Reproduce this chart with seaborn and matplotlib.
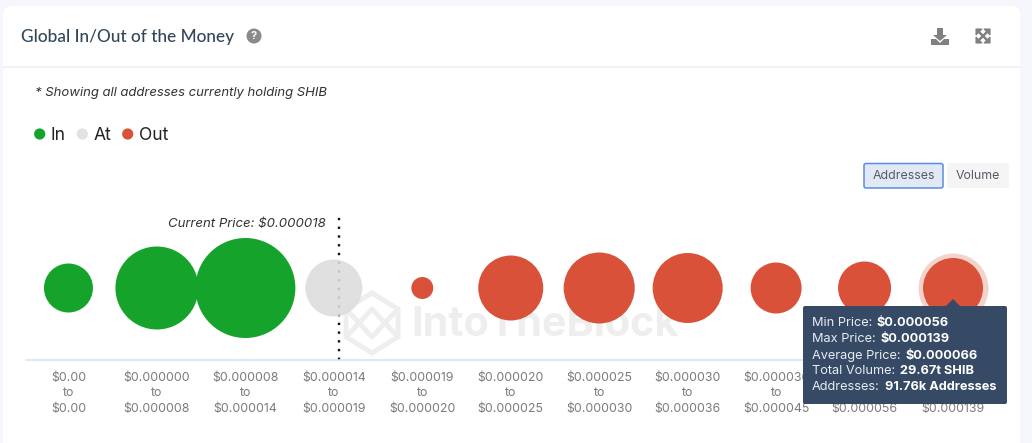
import matplotlib
matplotlib.use("Agg")
import matplotlib.pyplot as plt
from matplotlib.colors import to_rgba
from matplotlib.patches import FancyBboxPatch, Circle, Polygon
import pandas as pd
import seaborn as sns

W, H = 1032, 443

low_labels = ["$0.00", "$0.000000", "$0.000008", "$0.000014", "$0.000019", "$0.000020",
              "$0.000025", "$0.000030", "$0.000036", "$0.000045", "$0.000056"]
high_labels = ["$0.00", "$0.000008", "$0.000014", "$0.000019", "$0.000020", "$0.000025",
               "$0.000030", "$0.000036", "$0.000045", "$0.000056", "$0.000139"]
addresses_k = [61.2, 175.6, 254.9, 82.8, 12.3, 107.7, 128.5, 124.9, 66.3, 71.6, 91.76]
status = ["In", "In", "In", "At", "Out", "Out", "Out", "Out", "Out", "Out", "Out"]
palette = {"In": "#16a32c", "At": "#e2e2e2", "Out": "#d95138"}
current_price_pos = 3.06
tooltip_rows = [("Min Price: ", "$0.000056"), ("Max Price: ", "$0.000139"),
                ("Average Price: ", "$0.000066"), ("Total Volume: ", "29.67t SHIB"),
                ("Addresses: ", "91.76k Addresses")]

sns.set_theme(style="white")
plt.rcParams["font.family"] = ["Inter", "DejaVu Sans"]

fig = plt.figure(figsize=(W / 100, H / 100), dpi=100, facecolor="#f5f7fc")

# page furniture layer, in pixel coordinates
bg = fig.add_axes([0, 0, 1, 1], zorder=0)
bg.set_xlim(0, W); bg.set_ylim(H, 0); bg.axis("off")
bg.add_patch(FancyBboxPatch((3, 6), 1017, 460, boxstyle="round,pad=0,rounding_size=9",
                            fc="white", ec="none"))
bg.plot([3, 1020], [67, 67], color="#f0f1f4", lw=1.3)
bg.text(21, 37, "Global In/Out of the Money", fontsize=12.4, color="#33475b",
        family="Lato", va="center", fontweight="medium")
bg.add_patch(Circle((254, 36), 7.5, fc="#8a8a8a", ec="none"))
bg.text(254, 36.3, "?", color="white", fontsize=8, fontweight="bold", ha="center", va="center")
bg.text(35, 93, "* Showing all addresses currently holding SHIB", fontsize=9.45,
        style="italic", color="#333333", va="center")
for px, tx, lab, key in [(39.7, 51, "In", "In"), (82.3, 94, "At", "At"), (127.7, 139, "Out", "Out")]:
    bg.add_patch(Circle((px, 134), 5.6, fc=palette[key], ec="none"))
    bg.text(tx, 135.7, lab, fontsize=12.6, color="#222222", va="center")
# download icon
bg.add_patch(Polygon([(937, 28), (943, 28), (943, 35), (947, 35), (940, 41), (933, 35), (937, 35)],
                     fc="#808080", ec="none"))
bg.add_patch(Polygon([(931, 39), (936, 39), (940, 43), (944, 39), (949, 39), (949, 45), (931, 45)],
                     fc="#808080", ec="none"))
# expand icon
for x0, x1, y0, y1 in [(977, 989, 30, 42), (989, 977, 30, 42)]:
    bg.plot([x0, x1], [y0, y1], color="#808080", lw=1.8)
for cx, cy, sx, sy in [(976, 29, 1, 1), (990, 29, -1, 1), (976, 43, 1, -1), (990, 43, -1, -1)]:
    bg.add_patch(Polygon([(cx, cy), (cx + 6 * sx, cy), (cx, cy + 6 * sy)], fc="#808080", ec="#808080", lw=0.8))
# buttons
bg.add_patch(FancyBboxPatch((864, 163.5), 79, 24.5, boxstyle="round,pad=0,rounding_size=2",
                            fc="#e2e9f6", ec="#5b8de0", lw=1.1))
bg.text(903.5, 175.7, "Addresses", fontsize=8.9, color="#555c68", ha="center", va="center")
bg.add_patch(FancyBboxPatch((947, 163), 62, 25, boxstyle="round,pad=0,rounding_size=2",
                            fc="#f5f5f5", ec="none"))
bg.text(978, 175.7, "Volume", fontsize=8.9, color="#555c68", ha="center", va="center")
# watermark
wm = "#eeeeee"
bg.add_patch(Polygon([(346, 309), (372, 293), (398, 309), (398, 337), (372, 353), (346, 337)],
                     fc="none", ec=wm, lw=3.5))
bg.plot([346, 372, 398], [337, 309, 337], color=wm, lw=3.5)
bg.plot([346, 372, 398], [309, 337, 309], color=wm, lw=3.5)
bg.text(411, 324.5, "IntoTheBlock", fontsize=29.7, fontweight="bold", color=wm, va="center")

# chart
ax = fig.add_axes([24.25 / W, 1 - 360 / H, 973 / W, 144 / H], zorder=1)
ax.patch.set_alpha(0)
df = pd.DataFrame({"pos": range(len(status)), "level": [0.5] * len(status),
                   "addresses": addresses_k, "status": status})
max_k = max(addresses_k)
max_area = (100 * 0.72) ** 2 * max_k / 254.9
halo = df[df.addresses == 91.76]
ax.scatter(halo.pos, halo.level, s=(70 * 0.72) ** 2, color=palette["Out"], alpha=0.25,
           linewidths=0, clip_on=False, zorder=2)
sns.scatterplot(data=df, x="pos", y="level", hue="status", palette=palette, size="addresses",
                sizes=(0, max_area), size_norm=(0, max_k), linewidth=0, legend=False,
                clip_on=False, zorder=3, ax=ax)
# the "At" bubble is translucent, so the price line shows faintly through it
points = ax.collections[-1]
points.set_facecolors([to_rgba("#dcdcdc", 0.88) if s == "At" else to_rgba(palette[s]) for s in status])
ax.set_xlim(-0.5, 10.5); ax.set_ylim(0, 1)
ax.set_xlabel(""); ax.set_ylabel("")
ax.set_yticks([])
ax.set_xticks(range(len(low_labels)))
ax.set_xticklabels([f"{a}\nto\n{b}" for a, b in zip(low_labels, high_labels)],
                   fontsize=8.9, color="#7b7b7b", linespacing=1.4)
ax.tick_params(axis="x", length=0, pad=8.5)
for side in ["top", "left", "right"]:
    ax.spines[side].set_visible(False)
ax.spines["bottom"].set_color("#d9e4f5")
ax.spines["bottom"].set_linewidth(1.2)
ax.spines["bottom"].set_bounds(-0.48, 10.5)
ax.axvline(current_price_pos, color="#111111", lw=1.7, ls=(0, (1, 2.7)), zorder=2)
ax.annotate("Current Price: $0.000018", (current_price_pos, 1), xytext=(-13, -8),
            textcoords="offset pixels", ha="right", va="center", fontsize=9.5,
            style="italic", color="#333333")

# tooltip layer
top = fig.add_axes([0, 0, 1, 1], zorder=2)
top.set_xlim(0, W); top.set_ylim(H, 0); top.axis("off")
top.add_patch(FancyBboxPatch((803, 306), 204, 98, boxstyle="round,pad=0,rounding_size=2",
                             fc="#364a66", ec="none"))
top.add_patch(Polygon([(945, 307), (953, 299), (961, 307)], fc="#364a66", ec="none"))
row_y = [323.2, 339.2, 355.5, 371.2, 387.2]
val_x = [876.5, 880.5, 905.2, 899.5, 885]
for (k, v), y, x in zip(tooltip_rows, row_y, val_x):
    top.text(811.5, y, k.strip(), fontsize=9.2, color="#e8ecf2", va="center")
    top.text(x, y, v, fontsize=9.2, color="white", va="center", fontweight="bold")

fig.savefig("out.png", dpi=100, facecolor=fig.get_facecolor())
